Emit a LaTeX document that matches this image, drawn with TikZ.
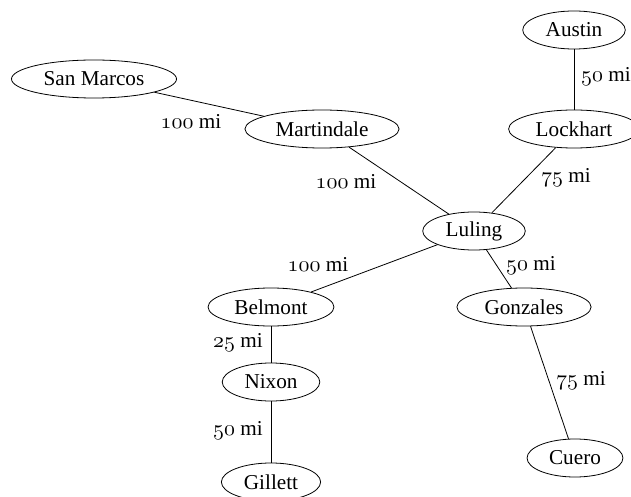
\documentclass[tikz,border=0pt]{standalone}
\usepackage{fontspec}
\setmainfont{Liberation Serif}
\usetikzlibrary{shapes.geometric}
% old style figures for the distances
\newcommand{\miles}[1]{{\fontencoding{OML}\fontfamily{cmm}\fontseries{m}\fontshape{it}\selectfont #1}~mi}

\begin{document}
\begin{tikzpicture}[x=0.5pt,y=-0.5pt,
    town/.style={draw,ellipse,inner xsep=4pt,inner ysep=0pt,minimum height=19pt,font=\fontsize{10.6}{12}\selectfont},
    dist/.style={inner sep=0pt,font=\fontsize{10.6}{12}\selectfont}]
      \useasboundingbox (0,0) rectangle (631,497);
      \node[town] (sanmarcos) at (94,79) {San Marcos};
      \node[town] (martindale) at (322,129) {Martindale};
      \node[town] (austin) at (574,30) {Austin};
      \node[town] (lockhart) at (574,129) {Lockhart};
      \node[town] (luling) at (474,231) {Luling};
      \node[town] (belmont) at (271,307) {Belmont};
      \node[town] (gonzales) at (524,307) {Gonzales};
      \node[town] (nixon) at (271,382) {Nixon};
      \node[town] (gillett) at (271,482) {Gillett};
      \node[town] (cuero) at (575,458) {Cuero};
      \draw (sanmarcos) -- (martindale);
      \draw (martindale) -- (luling);
      \draw (austin) -- (lockhart);
      \draw (lockhart) -- (luling);
      \draw (luling) -- (belmont);
      \draw (luling) -- (gonzales);
      \draw (belmont) -- (nixon);
      \draw (nixon) -- (gillett);
      \draw (gonzales) -- (cuero);
      \node[dist] (d1) at (191,121) {\miles{100}};
      \node[dist] (d2) at (346,181) {\miles{100}};
      \node[dist] (d3) at (606,77) {\miles{50}};
      \node[dist] (d4) at (566,178) {\miles{75}};
      \node[dist] (d5) at (318,264) {\miles{100}};
      \node[dist] (d6) at (531,266) {\miles{50}};
      \node[dist] (d7) at (238,343) {\miles{25}};
      \node[dist] (d8) at (238,431) {\miles{50}};
      \node[dist] (d9) at (581,381) {\miles{75}};
\end{tikzpicture}
\end{document}
